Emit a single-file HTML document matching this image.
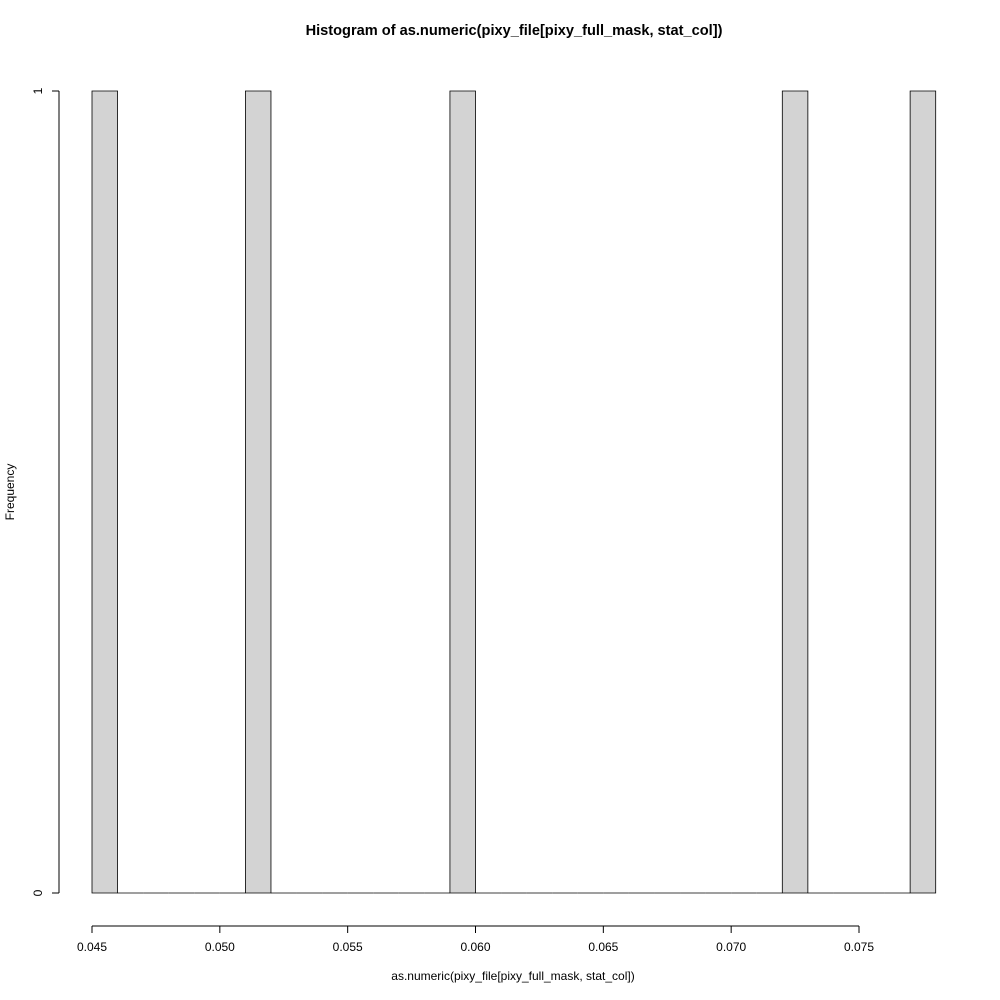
<!DOCTYPE html>
<html><head><meta charset="utf-8"><style>
html,body{margin:0;padding:0;background:#fff;}
svg{display:block;font-family:"Liberation Sans",sans-serif;}
</style></head><body>
<svg id="chart" width="1000" height="1000" viewBox="0 0 1000 1000">
<text x="514" y="35" text-anchor="middle" font-size="14.6" font-weight="bold">Histogram of as.numeric(pixy_file[pixy_full_mask, stat_col])</text>
<text x="513" y="980" text-anchor="middle" font-size="12">as.numeric(pixy_file[pixy_full_mask, stat_col])</text>
<text x="14" y="492" text-anchor="middle" font-size="12" transform="rotate(-90 14 492)">Frequency</text>
<g id="bars"></g>
<g id="xaxis"></g>
<g id="yaxis"></g>
</svg>
<script>
const binStarts = [0.045,0.046,0.047,0.048,0.049,0.050,0.051,0.052,0.053,0.054,0.055,0.056,0.057,0.058,0.059,0.060,0.061,0.062,0.063,0.064,0.065,0.066,0.067,0.068,0.069,0.070,0.071,0.072,0.073,0.074,0.075,0.076,0.077];
const counts = [1,0,0,0,0,0,1,0,0,0,0,0,0,0,1,0,0,0,0,0,0,0,0,0,0,0,0,1,0,0,0,0,1];
const binWidth = 0.001;
const xTicks = [0.045,0.050,0.055,0.060,0.065,0.070,0.075];
const xTickLabels = ["0.045","0.050","0.055","0.060","0.065","0.070","0.075"];
const yTicks = [0,1];
const yTickLabels = ["0","1"];

const NS = "http://www.w3.org/2000/svg";
const xs = v => 92 + (v - 0.045) / 0.030 * (859 - 92);
const ys = v => 893 - v * (893 - 91);
function mk(tag, attrs, parent){const e=document.createElementNS(NS,tag);for(const k in attrs)e.setAttribute(k,attrs[k]);parent.appendChild(e);return e;}

const bars = document.getElementById('bars');
binStarts.forEach((b,i)=>{
  const x0 = xs(b), x1 = xs(b+binWidth), y0 = ys(0), y1 = ys(counts[i]);
  const r = mk('path',{d:`M${x0},${y0}L${x0},${y1}L${x1},${y1}L${x1},${y0}Z`,fill:'#d3d3d3',stroke:'#000','stroke-width':0.8},bars);
  
  
});

const xa = document.getElementById('xaxis');
mk('line',{x1:xs(xTicks[0]),x2:xs(xTicks[xTicks.length-1]),y1:926,y2:926,stroke:'#000','stroke-width':1},xa);
xTicks.forEach((t,i)=>{
  mk('line',{x1:xs(t),x2:xs(t),y1:926,y2:933,stroke:'#000','stroke-width':1},xa);
  const tx = mk('text',{x:xs(t),y:951,'text-anchor':'middle','font-size':12},xa);
  tx.textContent = xTickLabels[i];
  
  
});

const ya = document.getElementById('yaxis');
mk('line',{x1:59,x2:59,y1:ys(yTicks[0]),y2:ys(yTicks[yTicks.length-1]),stroke:'#000','stroke-width':1},ya);
yTicks.forEach((t,i)=>{
  mk('line',{x1:52,x2:59,y1:ys(t),y2:ys(t),stroke:'#000','stroke-width':1},ya);
  const tx = mk('text',{x:42,y:ys(t),'text-anchor':'middle','font-size':12,transform:`rotate(-90 42 ${ys(t)})`},ya);
  tx.textContent = yTickLabels[i];
  
  
});
</script>
</body></html>
